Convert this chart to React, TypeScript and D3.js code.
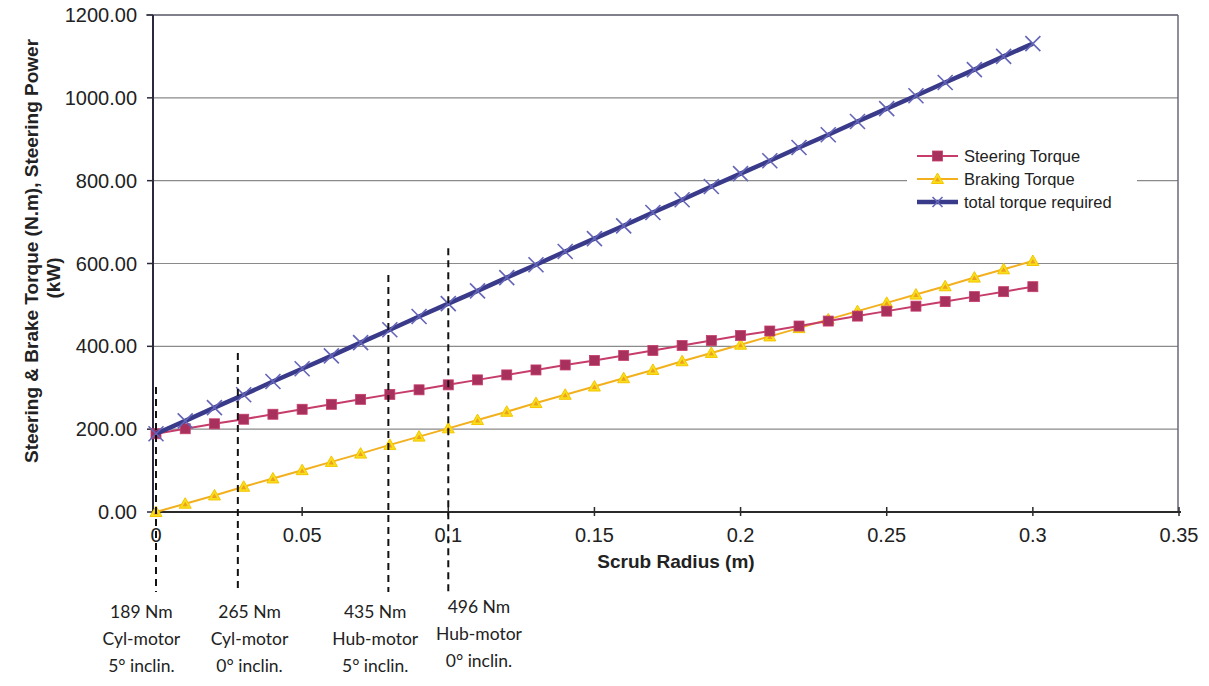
import React from "react";
import * as d3 from "d3";

const scrubRadius = [0, 0.01, 0.02, 0.03, 0.04, 0.05, 0.06, 0.07, 0.08, 0.09, 0.1, 0.11, 0.12, 0.13, 0.14, 0.15, 0.16, 0.17, 0.18, 0.19, 0.2, 0.21, 0.22, 0.23, 0.24, 0.25, 0.26, 0.27, 0.28, 0.29, 0.3];
const steeringTorque = [189, 201, 213, 224, 236, 248, 260, 272, 284, 295, 307, 319, 331, 343, 355, 366, 378, 390, 402, 414, 426, 437, 449, 461, 473, 485, 497, 508, 520, 532, 544];
const brakingTorque = [0, 20, 40, 61, 81, 101, 121, 141, 162, 182, 202, 222, 242, 263, 283, 303, 323, 343, 364, 384, 404, 424, 444, 465, 485, 505, 525, 545, 566, 586, 606];
const totalTorque = [189, 220, 252, 283, 315, 346, 377, 409, 440, 472, 503, 534, 566, 597, 629, 660, 691, 723, 754, 786, 817, 848, 880, 911, 943, 974, 1005, 1037, 1068, 1100, 1131];

const xTicks = [0, 0.05, 0.1, 0.15, 0.2, 0.25, 0.3, 0.35];
const xTickLabels = ["0", "0.05", "0.1", "0.15", "0.2", "0.25", "0.3", "0.35"];
const yTicks = [0, 200, 400, 600, 800, 1000, 1200];

const refX = [0, 0.028, 0.0795, 0.1];
const refTop = [302, 384, 572, 637];
const refLabelX = [-0.005, 0.032, 0.075, 0.1105];
const refLabels = [
  ["189 Nm", "Cyl-motor", "5° inclin."],
  ["265 Nm", "Cyl-motor", "0° inclin."],
  ["435 Nm", "Hub-motor", "5° inclin."],
  ["496 Nm", "Hub-motor", "0° inclin."],
];

const legendLabels = ["Steering Torque", "Braking Torque", "total torque required"];
const xTitle = "Scrub Radius (m)";
const yTitle = ["Steering & Brake Torque (N.m), Steering Power", "(kW)"];

const W = 1209, H = 686;
const plot = { left: 153, top: 15, right: 1178, bottom: 512 };
const FONT = "'Liberation Sans', Arial, sans-serif";
const ANNO_FONT = "Lato, 'Open Sans', sans-serif";

const steerLine = "#c63d6b";
const steerFill = "#a8305c";
const brakeLine = "#f2b01e";
const brakeFill = "#f7e01a";
const totalLine = "#3a3a8a";
const totalMark = "#6464b8";

export default function App() {
  const x = d3.scaleLinear().domain([0, 0.35]).range([156, 1179]);
  const y = d3.scaleLinear().domain([0, 1200]).range([plot.bottom, plot.top]);

  const mk = (vals: number[]) =>
    d3.line<number>().x((_, i) => x(scrubRadius[i])).y((d) => y(d))(vals) || "";

  const square = (cx: number, cy: number, k: string) => (
    <rect key={k} x={cx - 5} y={cy - 5} width={10} height={10} fill={steerFill} stroke={steerLine} strokeWidth={0.8} />
  );
  const tri = (cx: number, cy: number, k: string) => (
    <g key={k}>
      <path d={`M${cx},${cy - 6}L${cx + 6},${cy + 4.5}L${cx - 6},${cy + 4.5}Z`} fill={brakeFill} stroke="#f5c400" strokeWidth={1} />
      <path d={`M${cx},${cy - 2}L${cx + 2.6},${cy + 2.5}L${cx - 2.6},${cy + 2.5}Z`} fill="#f0a020" />
    </g>
  );
  const cross = (cx: number, cy: number, k: string, s = 7.5) => (
    <g key={k} stroke={totalMark} strokeWidth={1.6}>
      <line x1={cx - s} y1={cy - s} x2={cx + s} y2={cy + s} />
      <line x1={cx - s} y1={cy + s} x2={cx + s} y2={cy - s} />
    </g>
  );

  const dashBottom = y.invert(592);
  const lgX = 917, lgW = 41, lgY = [156, 179, 202];

  return (
    <svg width={W} height={H} style={{ position: "absolute", left: 0, top: 0, background: "#fff" }}>
      <rect x={0} y={0} width={W} height={H} fill="#fff" />
      {/* gridlines */}
      {yTicks.map((t) => (
        <line key={"g" + t} x1={plot.left} x2={plot.right} y1={y(t)} y2={y(t)} stroke="#8a8a8a" strokeWidth={1.2} />
      ))}
      <line x1={146} x2={plot.right} y1={plot.top} y2={plot.top} stroke="#6a6a7a" strokeWidth={1.5} />
      <line x1={plot.right} x2={plot.right} y1={plot.top} y2={plot.bottom} stroke="#6a6a7a" strokeWidth={1.5} />
      {/* axes */}
      <line x1={plot.left} x2={plot.left} y1={plot.top} y2={plot.bottom} stroke="#2a2a3a" strokeWidth={2} />
      <line x1={plot.left} x2={1181} y1={plot.bottom} y2={plot.bottom} stroke="#2a2a2a" strokeWidth={2} />
      {yTicks.map((t) => (
        <g key={"yt" + t}>
          <line x1={plot.left - 6} x2={plot.left} y1={y(t)} y2={y(t)} stroke="#2a2a3a" strokeWidth={1.5} />
          <text x={137} y={y(t) + 7} textAnchor="end" fontFamily={FONT} fontSize={20} fill="#222">
            {d3.format(".2f")(t)}
          </text>
        </g>
      ))}
      {xTicks.map((t, i) => (
        <g key={"xt" + t}>
          <line x1={x(t)} x2={x(t)} y1={plot.bottom - 5} y2={plot.bottom + 4} stroke="#2a2a2a" strokeWidth={1.5} />
          <text x={x(t)} y={542} textAnchor="middle" fontFamily={FONT} fontSize={20} fill="#222">
            {xTickLabels[i]}
          </text>
        </g>
      ))}
      <text x={676} y={568} textAnchor="middle" fontFamily={FONT} fontSize={19} fontWeight="bold" fill="#222">
        {xTitle}
      </text>
      <text transform={`translate(31,251) rotate(-90)`} textAnchor="middle" dominantBaseline="central" fontFamily={FONT} fontSize={19} fontWeight="bold" fill="#222">
        {yTitle[0]}
      </text>
      <text transform={`translate(53,278) rotate(-90)`} textAnchor="middle" dominantBaseline="central" fontFamily={FONT} fontSize={19} fontWeight="bold" fill="#222">
        {yTitle[1]}
      </text>

      {/* series */}
      <path d={mk(brakingTorque)} fill="none" stroke={brakeLine} strokeWidth={2} />
      {brakingTorque.map((v, i) => tri(x(scrubRadius[i]), y(v), "b" + i))}
      <path d={mk(steeringTorque)} fill="none" stroke={steerLine} strokeWidth={2} />
      {steeringTorque.map((v, i) => square(x(scrubRadius[i]), y(v), "s" + i))}
      <path d={mk(totalTorque)} fill="none" stroke={totalLine} strokeWidth={4.5} />
      {totalTorque.map((v, i) => cross(x(scrubRadius[i]), y(v), "t" + i))}

      {/* reference dashed lines */}
      {refX.map((r, i) => (
        <line key={"r" + i} x1={x(r)} x2={x(r)} y1={y(refTop[i])} y2={y(dashBottom)} stroke="#111" strokeWidth={2} strokeDasharray="7 5" />
      ))}
      {refLabels.map((lines, i) =>
        lines.map((s, j) => (
          <text key={"rl" + i + j} x={x(refLabelX[i])} y={(i === 3 ? 613 : 618) + j * 27} textAnchor="middle" fontFamily={ANNO_FONT} fontSize={17.5} fill="#222">
            {s}
          </text>
        ))
      )}

      {/* legend */}
      <rect x={907} y={142} width={230} height={72} fill="#fff" />
      {legendLabels.map((s, i) => {
        const cy = lgY[i];
        const cx = lgX + lgW / 2;
        const color = i === 0 ? steerLine : i === 1 ? brakeLine : totalLine;
        return (
          <g key={"lg" + i}>
            <line x1={lgX} x2={lgX + lgW} y1={cy} y2={cy} stroke={color} strokeWidth={i === 2 ? 4.5 : 2} />
            {i === 0 && square(cx, cy, "lm0")}
            {i === 1 && tri(cx, cy, "lm1")}
            {i === 2 && cross(cx, cy, "lm2", 5)}
            <text x={964} y={cy + 6} fontFamily={FONT} fontSize={16.5} fill="#222">
              {s}
            </text>
          </g>
        );
      })}
    </svg>
  );
}
